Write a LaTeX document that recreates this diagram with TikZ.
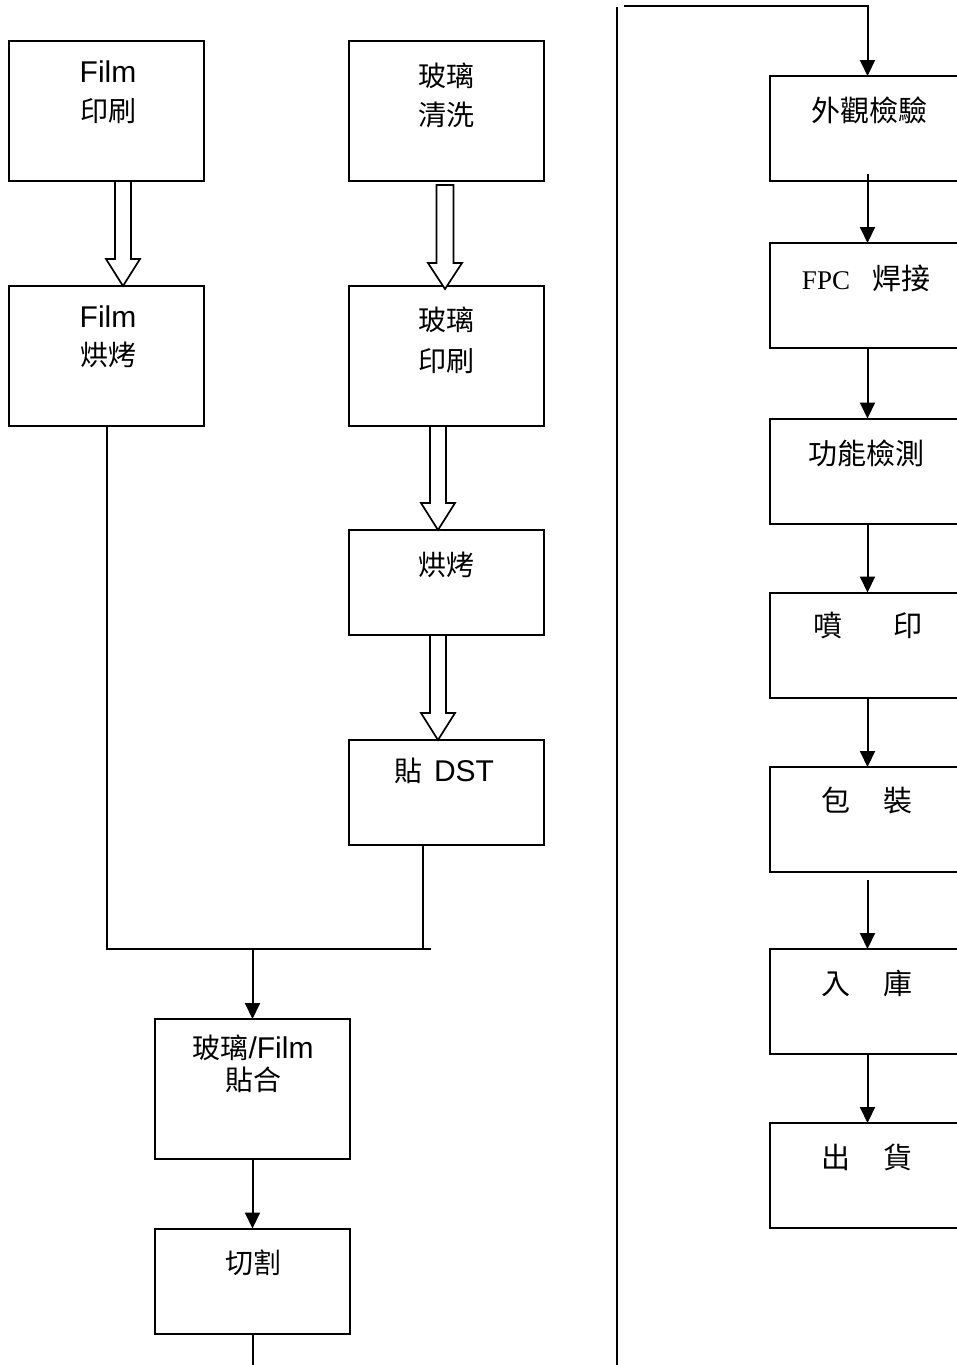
\documentclass[tikz,border=0pt]{standalone}
\usepackage{fontspec}
\setmainfont{Liberation Sans}
\newfontfamily\cjk{Noto Sans CJK TC}
\newfontfamily\tnr{Liberation Serif}
\usetikzlibrary{arrows.meta,calc}
\newcommand\holarrow[5]{% centre x, half shaft width, start y, head base y, tip y
  \draw[hol] ({#1-#2},#3) -- ({#1-#2},#4) -- ({#1-17},#4) -- (#1,#5) -- ({#1+17},#4) -- ({#1+#2},#4) -- ({#1+#2},#3) -- cycle;}
\begin{document}
\begin{tikzpicture}[x=1pt,y=-1pt,
  box/.style={draw,line width=2pt,minimum width=195pt,inner sep=0pt,outer sep=0pt},
  tbox/.style={box,minimum height=140pt},
  sbox/.style={box,minimum height=105pt},
  lat/.style={inner sep=0pt,font=\fontsize{30}{35}\selectfont},
  cj/.style={inner sep=0pt,font=\cjk\fontsize{28}{34}\selectfont},
  cjr/.style={inner sep=0pt,font=\cjk\fontsize{29}{34}\selectfont},
  ln/.style={line width=2pt},
  arr/.style={ln,-{Triangle[length=16pt,width=15pt]}},
  hol/.style={draw,line width=1.7pt,fill=white,line join=miter}]
\useasboundingbox (0,0) rectangle (957,1365);
\clip (0,0) rectangle (957,1365);

% ---------- left part ----------
\node[tbox] (fp) at (106.5,111) {};
\node[lat] at (108,72) {Film};
\node[cj] at (108,111) {印刷};

\node[tbox] (gc) at (446.5,111) {};
\node[cj] at (446.5,76) {玻璃};
\node[cj] at (446.5,115) {清洗};

\node[tbox] (fb) at (106.5,356) {};
\node[lat] at (108,317) {Film};
\node[cj] at (108,355) {烘烤};

\node[tbox] (gp) at (446.5,356) {};
\node[cj] at (446.5,320) {玻璃};
\node[cj] at (446.5,361) {印刷};

\node[sbox] (gb) at (446.5,582.5) {};
\node[cj] at (446.5,565) {烘烤};

\node[sbox] (dst) at (446.5,792.5) {};
\node[lat] at (444,771) {{\cjk\fontsize{28}{34}\selectfont 貼}\hspace{12pt}DST};

\node[tbox] (lam) at (252.5,1089) {};
\node[lat] at (253,1048) {{\cjk\fontsize{28}{34}\selectfont 玻璃}/Film};
\node[cj] at (253,1080) {貼合};

\node[sbox] (cut) at (252.5,1281) {};
\node[cj] at (253,1263) {切割};

% hollow arrows
\holarrow{123}{8}{181}{259}{286}
\holarrow{445}{8.5}{185}{263}{289}
\holarrow{438}{8}{426}{503}{530}
\holarrow{438}{8}{635}{713}{740}

% merge lines
\coordinate (j1) at (106.5,949);
\coordinate (j2) at (430.7,949);
\coordinate (d0) at (423,845);
\coordinate (d1) at (423,949);
\coordinate (m) at (252.5,949);
\coordinate (cend) at (252.5,1366);
\draw[ln] (fb.south) -- (j1) -- (j2);
\draw[ln] (d0) -- (d1);
\draw[arr] (m) -- (lam.north);
\draw[arr] (lam.south) -- (cut.north);
\draw[ln] (cut.south) -- (cend);

% ---------- right part ----------
\coordinate (v0) at (616.5,7);
\coordinate (v1) at (616.5,1366);
\draw[ln] (v0) -- (v1);

\node[sbox] (ext) at (867.5,128.5) {};
\node[cjr] at (869,110) {外觀檢驗};

\node[sbox] (fpc) at (867.5,295.5) {};
\node[inner sep=0pt] at (866,278) {{\tnr\fontsize{27}{30}\selectfont FPC}\hspace{22pt}{\cjk\fontsize{29}{34}\selectfont 焊接}};

\node[sbox] (fun) at (867.5,471) {};
\node[cjr] at (866,453) {功能檢測};

\node[sbox] (pen) at (867.5,645) {};
\node[cjr] at (868,626) {噴\hspace{51pt}印};

\node[sbox] (pak) at (867.5,819.5) {};
\node[cjr] at (867,800) {包\hspace{33pt}裝};

\node[sbox] (ink) at (867.5,1001.5) {};
\node[cjr] at (867,983) {入\hspace{33pt}庫};

\node[sbox] (shp) at (867.5,1175.5) {};
\node[cjr] at (867,1157) {出\hspace{33pt}貨};

\coordinate (t0) at (624,6);
\coordinate (e1) at (867.5,174);
\coordinate (p1) at (867.5,880);
\draw[arr] (t0) -| (ext.north);
\draw[arr] (e1) -- (fpc.north);
\draw[arr] (fpc.south) -- (fun.north);
\draw[arr] (fun.south) -- (pen.north);
\draw[arr] (pen.south) -- (pak.north);
\draw[arr] (p1) -- (ink.north);
\draw[arr] (ink.south) -- (shp.north);
\end{tikzpicture}
\end{document}
